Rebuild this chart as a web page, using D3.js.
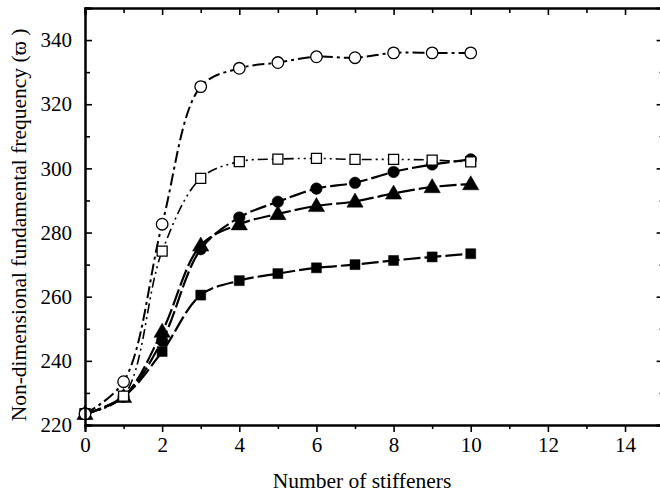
<!DOCTYPE html>
<html>
<head>
<meta charset="utf-8">
<script src="https://cdn.jsdelivr.net/npm/d3@7/dist/d3.min.js"></script>
<style>
  html, body { margin: 0; padding: 0; background: #fff; }
  svg { display: block; }
  text { font-family: "Liberation Serif", "Times New Roman", serif; fill: #000; }
</style>
</head>
<body>
<svg id="chart" width="660" height="494"></svg>
<script>
// Number of stiffeners (x positions of every series)
const stiffeners = [0, 1, 2, 3, 4, 5, 6, 7, 8, 9, 10];

// Non-dimensional fundamental frequency for each configuration
const openCircle   = [223.5, 233.5, 282.6, 325.5, 331.2, 333.0, 334.8, 334.5, 336.0, 336.0, 336.0];
const openSquare   = [223.5, 229.0, 274.2, 296.9, 302.1, 302.9, 303.1, 302.8, 302.8, 302.6, 302.0];
const filledCircle = [223.5, 228.8, 246.3, 274.8, 284.7, 289.6, 293.7, 295.5, 298.9, 301.2, 302.8];
const filledTri    = [223.5, 228.8, 249.1, 276.0, 282.6, 285.8, 288.3, 289.7, 292.2, 294.2, 295.1];
const filledSquare = [223.3, 228.8, 242.9, 260.5, 265.0, 267.2, 269.0, 270.0, 271.3, 272.4, 273.4];

const xTicks = [0, 2, 4, 6, 8, 10, 12, 14];
const yTicks = [220, 240, 260, 280, 300, 320, 340];

const series = [
  { name: "filledSquare", values: filledSquare, shape: "square",   filled: true,  dash: "17,4",          width: 2.2 },
  { name: "filledTri",    values: filledTri,    shape: "triangle", filled: true,  dash: "17,4",          width: 2.2 },
  { name: "filledCircle", values: filledCircle, shape: "circle",   filled: true,  dash: "17,4",          width: 2.2 },
  { name: "openSquare",   values: openSquare,   shape: "square",   filled: false, dash: "10,4,2,4,2,4",  width: 1.6 },
  { name: "openCircle",   values: openCircle,   shape: "circle",   filled: false, dash: "12,4,3,4",      width: 2.0 }
];

const svg = d3.select("#chart");
const plotL = 85, plotR = 663.6, plotT = 8, plotB = 425;

const x = d3.scaleLinear().domain([0, 15]).range([plotL, plotR]);
const y = d3.scaleLinear().domain([220, 350]).range([plotB, plotT]);

// Smooth curves through the computed points
const line = d3.line()
  .x((d, i) => x(stiffeners[i]))
  .y(d => y(d))
  .curve(d3.curveCatmullRom.alpha(0.5));

const g = svg.append("g");
series.forEach(s => {
  g.append("path")
    .attr("d", line(s.values))
    .attr("fill", "none")
    .attr("stroke", "#000")
    .attr("stroke-width", s.width)
    .attr("stroke-dasharray", s.dash);
});

// Markers
const symbolType = { circle: d3.symbolCircle, square: d3.symbolSquare, triangle: d3.symbolTriangle };
const symbolSize = { circle: 105, square: 100, triangle: 115 };
series.forEach(s => {
  const sym = d3.symbol().type(symbolType[s.shape]).size(symbolSize[s.shape]);
  g.selectAll(null)
    .data(s.values)
    .join("path")
    .attr("transform", (d, i) => `translate(${x(stiffeners[i])},${y(d) + (s.shape === "triangle" ? 1 : 0)})`)
    .attr("d", sym)
    .attr("fill", s.filled ? "#000" : "#fff")
    .attr("stroke", "#000")
    .attr("stroke-width", s.filled ? 0.5 : 1.3);
});

// Frame and axes
const axisG = svg.append("g");
const bottomAxis = d3.axisBottom(x).tickValues(xTicks).tickSize(7).tickPadding(5).tickFormat(d3.format("d"));
axisG.append("g").attr("transform", `translate(0,${plotB})`).call(bottomAxis);
const bottomMinor = d3.axisBottom(x).tickValues(d3.range(1, 16, 2)).tickSize(4).tickFormat("");
axisG.append("g").attr("transform", `translate(0,${plotB})`).call(bottomMinor);

const leftAxis = d3.axisLeft(y).tickValues(yTicks).tickSize(-7).tickPadding(13).tickFormat(d3.format("d"));
axisG.append("g").attr("transform", `translate(${plotL},0)`).call(leftAxis);
const leftMinor = d3.axisLeft(y).tickValues(d3.range(230, 351, 20)).tickSize(-5).tickFormat("");
axisG.append("g").attr("transform", `translate(${plotL},0)`).call(leftMinor);

const topAxis = d3.axisTop(x).tickValues(xTicks).tickSize(-7).tickFormat("");
axisG.append("g").attr("transform", `translate(0,${plotT})`).call(topAxis);
const topMinor = d3.axisTop(x).tickValues(d3.range(1, 16, 2)).tickSize(-5).tickFormat("");
axisG.append("g").attr("transform", `translate(0,${plotT})`).call(topMinor);

const rightAxis = d3.axisRight(y).tickValues(yTicks).tickSize(-7).tickFormat("");
axisG.append("g").attr("transform", `translate(${plotR},0)`).call(rightAxis);
const rightMinor = d3.axisRight(y).tickValues(d3.range(230, 351, 20)).tickSize(-4).tickFormat("");
axisG.append("g").attr("transform", `translate(${plotR},0)`).call(rightMinor);

axisG.selectAll(".domain").attr("stroke", "#000").attr("stroke-width", 2);
axisG.selectAll(".tick line").attr("stroke", "#000").attr("stroke-width", 1.6);
axisG.selectAll(".tick text")
  .style("font-family", "'Liberation Serif', 'Times New Roman', serif")
  .style("font-size", "21px")
  .attr("fill", "#000");

// Axis titles
svg.append("text")
  .attr("x", 362)
  .attr("y", 488)
  .attr("text-anchor", "middle")
  .style("font-size", "21.5px")
  .text("Number of stiffeners");

svg.append("text")
  .attr("transform", `translate(26,225) rotate(-90)`)
  .attr("text-anchor", "middle")
  .style("font-size", "21.5px")
  .text("Non-dimensional fundamental frequency (ϖ )");
</script>
</body>
</html>
